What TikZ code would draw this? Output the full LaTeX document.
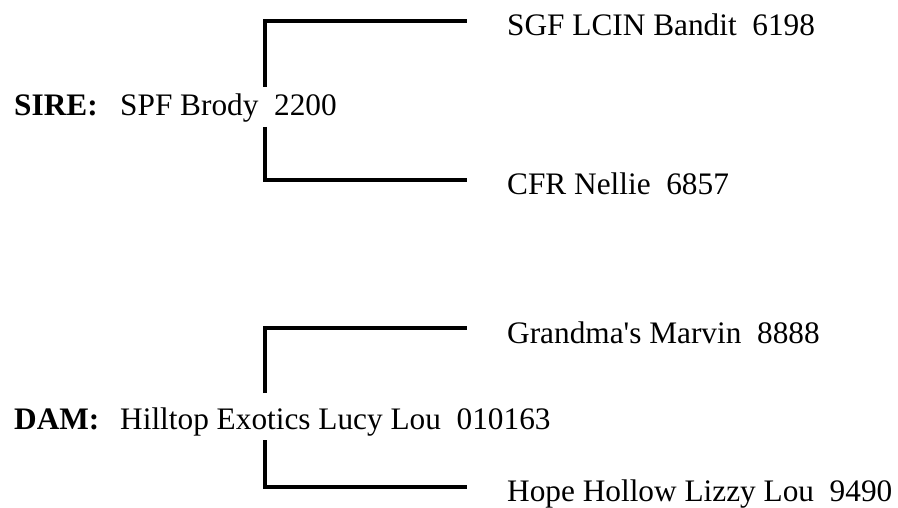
\documentclass[tikz,border=0pt]{standalone}
\usepackage{fontspec}
\setmainfont{Liberation Serif}
\begin{document}
\begin{tikzpicture}[x=1pt,y=-1pt,
  lbl/.style={anchor=base west,inner sep=0pt,font=\fontsize{31.3}{36}\selectfont},
  bracket/.style={line width=4pt,line cap=butt,line join=miter}]
\useasboundingbox[fill=white] (0,0) rectangle (898,508);
% sire
\node[lbl] (sirelbl) at (14,116) {\textbf{SIRE:}};
\node[lbl] (sire) at (120,116) {SPF Brody\ \ 2200};
\node[lbl] (ss) at (507,36) {SGF LCIN Bandit\ \ 6198};
\node[lbl] (sd) at (507,195) {CFR Nellie\ \ 6857};
% dam
\node[lbl] (damlbl) at (14,429) {\textbf{DAM:}};
\node[lbl] (dam) at (120,429) {Hilltop Exotics Lucy Lou\ \ 010163};
\node[lbl] (ds) at (507,343) {Grandma\textquotesingle s Marvin\ \ 8888};
\node[lbl] (dd) at (507,501) {Hope Hollow Lizzy Lou\ \ 9490};
% bracket coordinates
\coordinate (s1) at (265,87);
\coordinate (s1e) at (467,21);
\coordinate (s2) at (265,127);
\coordinate (s2e) at (467,180);
\coordinate (d1) at (265,393);
\coordinate (d1e) at (467,328);
\coordinate (d2) at (265,440);
\coordinate (d2e) at (467,487);
\draw[bracket] (s1) |- (s1e);
\draw[bracket] (s2) |- (s2e);
\draw[bracket] (d1) |- (d1e);
\draw[bracket] (d2) |- (d2e);
\end{tikzpicture}
\end{document}
